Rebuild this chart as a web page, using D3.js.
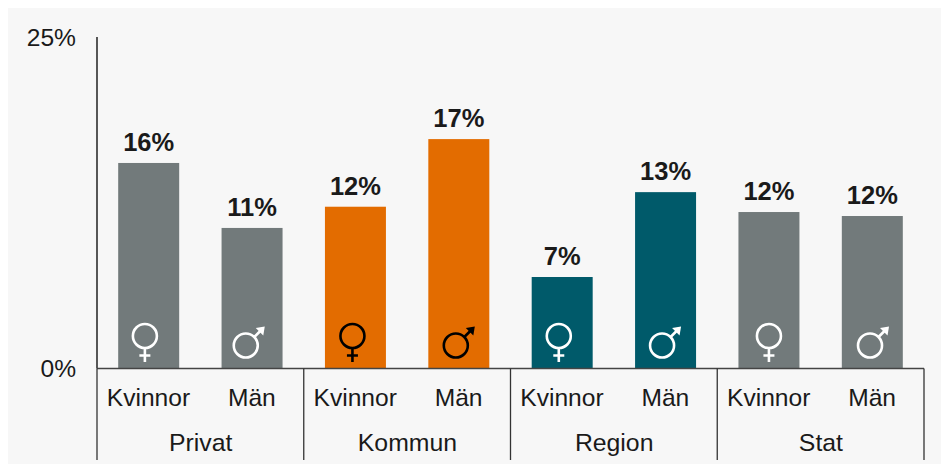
<!DOCTYPE html>
<html><head><meta charset="utf-8"><script src="https://cdn.jsdelivr.net/npm/d3@7/dist/d3.min.js"></script>
<style>html,body{margin:0;padding:0;background:#fff}svg{display:block}text{font-family:"Liberation Sans",Arial,sans-serif;fill:#1a1a1a}</style></head>
<body><div id="c"></div><script>
const groups=["Privat","Kommun","Region","Stat"];
const genders=["Kvinnor","Män"];
const values=[15.5,10.6,12.2,17.3,6.9,13.3,11.8,11.5];
const labels=["16%","11%","12%","17%","7%","13%","12%","12%"];
const barColors=["#727a7b","#727a7b","#e36c00","#e36c00","#005a6a","#005a6a","#727a7b","#727a7b"];
const symbolColors=["#fff","#fff","#000","#000","#fff","#fff","#fff","#fff"];
const yTicks=[0,25];
const W=941,H=464,m={l:97,r:924,t:37,b:368.5};
const iconShift=[-3.8,-6.3,-3,-3,-3.4,-3.5,0,-2.3];
const svg=d3.select("#c").append("svg").attr("width",W).attr("height",H);
svg.append("rect").attr("x",8).attr("y",8).attr("width",933).attr("height",456).attr("fill","#f7f7f7");
const idx=d3.range(values.length);
const x=d3.scaleBand().domain(idx).range([m.l,m.r]).paddingInner(0.41).paddingOuter(0.205);
const y=d3.scaleLinear().domain([0,25]).range([m.b,m.t]);
svg.selectAll("rect.bar").data(idx).join("rect").attr("class","bar")
 .attr("x",i=>x(i)).attr("width",x.bandwidth()).attr("y",i=>y(values[i])).attr("height",i=>y(0)-y(values[i])).attr("fill",i=>barColors[i]);
svg.selectAll("text.val").data(idx).join("text").attr("class","val").attr("text-anchor","middle")
 .attr("x",i=>x(i)+x.bandwidth()/2).attr("y",i=>y(values[i])-12).attr("font-size",25.5).attr("font-weight",700).text(i=>labels[i]);
// gender icons
function femalePath(){const p=d3.path();p.moveTo(12,0);p.arc(0,0,12,0,2*Math.PI);p.moveTo(0,12);p.lineTo(0,26);p.moveTo(-5.5,19.5);p.lineTo(5.5,19.5);return p.toString();}
function malePath(){const p=d3.path();p.moveTo(12,0);p.arc(0,0,12,0,2*Math.PI);p.moveTo(8.5,-8.5);p.lineTo(15,-15);return p.toString();}
function maleHead(){const p=d3.path();p.moveTo(19,-19);p.lineTo(10,-17.5);p.lineTo(17.5,-10);p.closePath();return p.toString();}
const pos=i=>{const c=x(i)+x.bandwidth()/2+iconShift[i];return `translate(${c},${i%2?345.5:336})`;};
svg.selectAll("path.sym").data(idx).join("path").attr("class","sym")
 .attr("fill","none").attr("stroke",i=>symbolColors[i]).attr("stroke-width",2.6)
 .attr("transform",pos).attr("d",i=>i%2?malePath():femalePath());
svg.selectAll("path.head").data(idx.filter(i=>i%2)).join("path").attr("class","head")
 .attr("fill",i=>symbolColors[i]).attr("transform",pos).attr("d",maleHead());
svg.selectAll("text.yt").data(yTicks).join("text").attr("class","yt").attr("text-anchor","end")
 .attr("x",76).attr("y",d=>y(d)+8.5).attr("font-size",24.6).text(d=>d+"%");
const line=(x1,y1,x2,y2,c)=>svg.append("line").attr("x1",x1).attr("y1",y1).attr("x2",x2).attr("y2",y2).attr("stroke",c).attr("stroke-width",1.3);
line(m.l,m.t,m.l,m.b,"#000");
line(m.l,m.b,m.r,m.b,"#444");
const gx=d3.scaleBand().domain(groups).range([m.l,m.r]);
groups.forEach(g=>{line(gx(g),m.b,gx(g),460,"#333");});
line(m.r,m.b,m.r,460,"#333");
svg.selectAll("text.cat").data(idx).join("text").attr("class","cat").attr("text-anchor","middle")
 .attr("x",i=>x(i)+x.bandwidth()/2-0.2).attr("y",406).attr("font-size",24.6).text(i=>genders[i%2]);
svg.selectAll("text.grp").data(groups).join("text").attr("class","grp").attr("text-anchor","middle")
 .attr("x",g=>gx(g)+gx.bandwidth()/2+0.3).attr("y",451).attr("font-size",24.8).text(g=>g);
</script></body></html>
